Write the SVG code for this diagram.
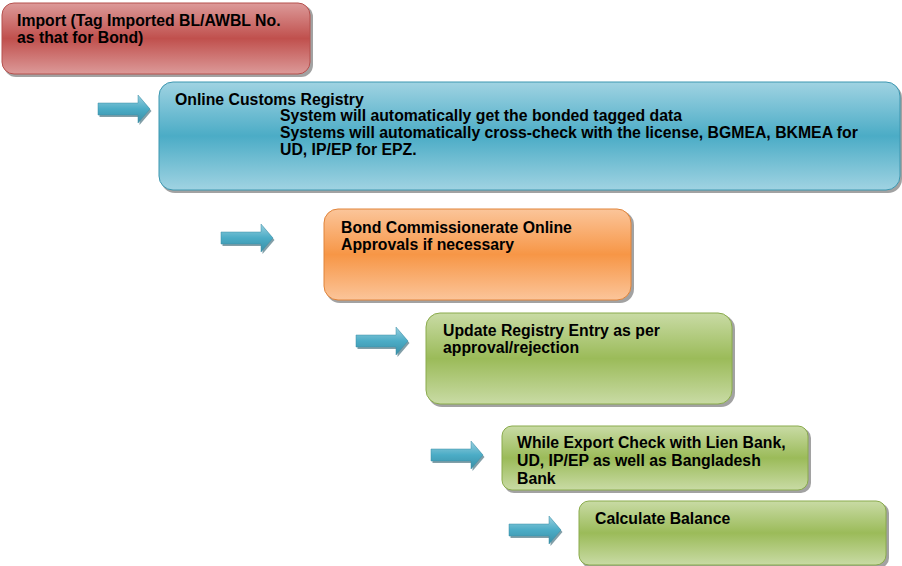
<svg xmlns="http://www.w3.org/2000/svg" width="902" height="566" viewBox="0 0 902 566">
  <defs>
    <linearGradient id="gRed" x1="0" y1="0" x2="0" y2="1">
      <stop offset="0" stop-color="#dc9a99"/>
      <stop offset="0.5" stop-color="#c0504d"/>
      <stop offset="1" stop-color="#dc9a99"/>
    </linearGradient>
    <linearGradient id="gBlue" x1="0" y1="0" x2="0" y2="1">
      <stop offset="0" stop-color="#a0d3e2"/>
      <stop offset="0.5" stop-color="#4bacc6"/>
      <stop offset="1" stop-color="#a0d3e2"/>
    </linearGradient>
    <linearGradient id="gOrange" x1="0" y1="0" x2="0" y2="1">
      <stop offset="0" stop-color="#fbc59a"/>
      <stop offset="0.5" stop-color="#f79646"/>
      <stop offset="1" stop-color="#fbc59a"/>
    </linearGradient>
    <linearGradient id="gGreen" x1="0" y1="0" x2="0" y2="1">
      <stop offset="0" stop-color="#c9dba5"/>
      <stop offset="0.5" stop-color="#9bbb59"/>
      <stop offset="1" stop-color="#c9dba5"/>
    </linearGradient>
    <linearGradient id="gArrow" x1="0" y1="0" x2="0" y2="1">
      <stop offset="0" stop-color="#9ad0df"/>
      <stop offset="0.5" stop-color="#4bacc6"/>
      <stop offset="1" stop-color="#3a8fa6"/>
    </linearGradient>
    <!-- block arrow shape, origin at left of shaft centre -->
    <path id="arrowShape" d="M0,-6 H40 V-14 L52,0 L40,14 V6 H0 Z"/>
  </defs>
  <style>
    .lbl { font-family: "Liberation Sans", Arial, sans-serif; font-weight: bold; font-size: 15.8px; fill: #000; }
    .shadow { fill: #555; opacity: 0.55; }
    .red { fill: url(#gRed); stroke: #b5504d; stroke-width: 1; }
    .blue { fill: url(#gBlue); stroke: #3d97b0; stroke-width: 1; }
    .orange { fill: url(#gOrange); stroke: #e0843a; stroke-width: 1; }
    .green { fill: url(#gGreen); stroke: #8aab4c; stroke-width: 1; }
    .arrow { fill: url(#gArrow); stroke: #3a8fa6; stroke-width: 0.5; }
    .arrowShadow { fill: #2f5f6e; opacity: 0.6; }
  </style>

  <!-- connectors: block arrows -->
  <g id="connectors">
    <g transform="translate(98,109)">
      <use href="#arrowShape" class="arrowShadow" x="1.5" y="2"/>
      <use href="#arrowShape" class="arrow"/>
    </g>
    <g transform="translate(221,238)">
      <use href="#arrowShape" class="arrowShadow" x="1.5" y="2"/>
      <use href="#arrowShape" class="arrow"/>
    </g>
    <g transform="translate(356,341)">
      <use href="#arrowShape" class="arrowShadow" x="1.5" y="2"/>
      <use href="#arrowShape" class="arrow"/>
    </g>
    <g transform="translate(431,455)">
      <use href="#arrowShape" class="arrowShadow" x="1.5" y="2"/>
      <use href="#arrowShape" class="arrow"/>
    </g>
    <g transform="translate(509,530)">
      <use href="#arrowShape" class="arrowShadow" x="1.5" y="2"/>
      <use href="#arrowShape" class="arrow"/>
    </g>
  </g>

  <g id="import">
    <rect class="shadow" x="4" y="5" width="309" height="72" rx="12"/>
    <rect class="red" x="2" y="3" width="308" height="71" rx="12"/>
    <text class="lbl" x="17" y="26">Import (Tag Imported BL/AWBL No.</text>
    <text class="lbl" x="17" y="43">as that for Bond)</text>
  </g>

  <g id="registry">
    <rect class="shadow" x="161" y="84" width="741" height="109" rx="14"/>
    <rect class="blue" x="159" y="82" width="741" height="108" rx="14"/>
    <text class="lbl" x="175" y="105">Online Customs Registry</text>
    <text class="lbl" x="280" y="121">System will automatically get the bonded tagged data</text>
    <text class="lbl" x="280" y="138">Systems will automatically cross-check with the license, BGMEA, BKMEA for</text>
    <text class="lbl" x="280" y="155">UD, IP/EP for EPZ.</text>
  </g>

  <g id="bond-approval">
    <rect class="shadow" x="326" y="211" width="308" height="92" rx="14"/>
    <rect class="orange" x="324" y="209" width="307" height="91" rx="14"/>
    <text class="lbl" x="341" y="233">Bond Commissionerate Online</text>
    <text class="lbl" x="341" y="250">Approvals if necessary</text>
  </g>

  <g id="update-registry">
    <rect class="shadow" x="428" y="315" width="307" height="92" rx="14"/>
    <rect class="green" x="426" y="313" width="306" height="91" rx="14"/>
    <text class="lbl" x="443" y="336">Update Registry Entry as per</text>
    <text class="lbl" x="443" y="353">approval/rejection</text>
  </g>

  <g id="export-check">
    <rect class="shadow" x="504" y="428" width="307" height="65" rx="10"/>
    <rect class="green" x="502" y="426" width="306" height="64" rx="10"/>
    <text class="lbl" x="517" y="448">While Export Check with Lien Bank,</text>
    <text class="lbl" x="517" y="466">UD, IP/EP as well as Bangladesh</text>
    <text class="lbl" x="517" y="484">Bank</text>
  </g>

  <g id="balance">
    <rect class="shadow" x="581" y="503" width="308" height="65" rx="10"/>
    <rect class="green" x="579" y="501" width="307" height="64" rx="10"/>
    <text class="lbl" x="595" y="524">Calculate Balance</text>
  </g>
</svg>
